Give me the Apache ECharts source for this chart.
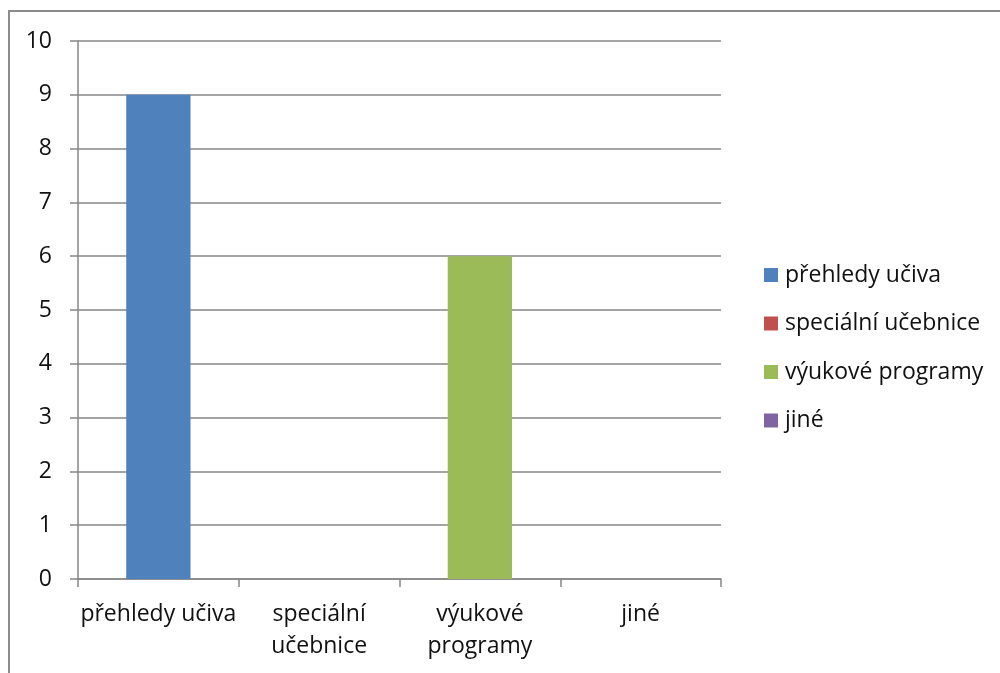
<!DOCTYPE html>
<html>
<head>
<meta charset="utf-8">
<script src="https://cdn.jsdelivr.net/npm/echarts@6/dist/echarts.min.js"></script>
<style>
html,body{margin:0;padding:0;background:#fff;}
#chart{width:1000px;height:673px;}
</style>
</head>
<body>
<div id="chart"></div>
<script>
const categories = ['přehledy učiva', 'speciální\nučebnice', 'výukové\nprogramy', 'jiné'];
const seriesNames = ['přehledy učiva', 'speciální učebnice', 'výukové programy', 'jiné'];
const values = [9, 0, 6, 0];
const colors = ['#4F81BD', '#C0504D', '#9BBB59', '#8064A2'];
const yTicks = [0, 1, 2, 3, 4, 5, 6, 7, 8, 9, 10];

const FONT = '"Open Sans", "Noto Sans", sans-serif';
const chart = echarts.init(document.getElementById('chart'));
const series = seriesNames.map((name, i) => ({
  name: name,
  type: 'bar',
  stack: 'all',
  barWidth: '40%',
  itemStyle: { color: colors[i] },
  data: categories.map((c, j) => (j === i ? values[i] : null))
}));
chart.setOption({
  animation: false,
  backgroundColor: '#fff',
  graphic: [{
    type: 'rect',
    shape: { x: 9, y: 11, width: 1010, height: 700 },
    style: { fill: 'none', stroke: '#8c8c8c', lineWidth: 2 },
    z: -1
  }],
  grid: { left: 78, right: 279, top: 41, bottom: 94, containLabel: false },
  legend: {
    orient: 'vertical',
    left: 764,
    top: 263,
    padding: 0,
    itemWidth: 14,
    itemHeight: 14,
    itemGap: 24.5,
    icon: 'rect',
    textStyle: { fontFamily: FONT, fontSize: 23, lineHeight: 24, color: '#111', padding: [0, 0, 0, 2] },
    data: seriesNames
  },
  xAxis: {
    type: 'category',
    data: categories,
    axisLine: { lineStyle: { color: '#868686', width: 1.5 } },
    axisTick: { show: true, length: 8, lineStyle: { color: '#868686', width: 1.5 } },
    axisLabel: { fontFamily: FONT, fontSize: 23, color: '#111', margin: 19, lineHeight: 32, interval: 0 }
  },
  yAxis: {
    type: 'value',
    min: yTicks[0],
    max: yTicks[yTicks.length - 1],
    interval: 1,
    axisLine: { show: true, lineStyle: { color: '#868686', width: 1.5 } },
    axisTick: { show: true, length: 8, lineStyle: { color: '#868686', width: 1.5 } },
    splitLine: { lineStyle: { color: '#868686', width: 1.5 } },
    axisLabel: { fontFamily: FONT, fontSize: 23, color: '#111', margin: 26 }
  },
  series: series
});
</script>
</body>
</html>
